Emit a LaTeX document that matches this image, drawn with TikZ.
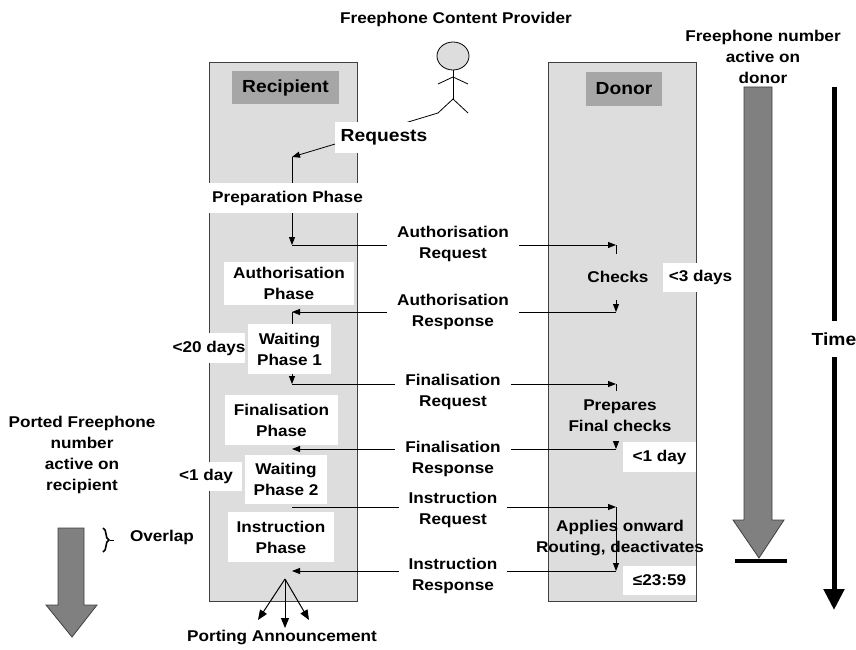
\documentclass[tikz,border=0pt]{standalone}
\usepackage{fontspec}
\setmainfont{Liberation Sans}[FakeStretch=1.1]
\usetikzlibrary{arrows.meta,decorations.pathreplacing}

\definecolor{laneGray}{RGB}{221,221,221}
\definecolor{headGray}{RGB}{166,166,166}
\definecolor{arrowGray}{RGB}{128,128,128}
\definecolor{edgeGray}{RGB}{64,64,64}

\begin{document}
\begin{tikzpicture}[x=1pt, y=-1pt,
  every node/.style = {align=center, inner sep=0pt,
    font=\bfseries\fontsize{15.6}{21}\selectfont},
  msg/.style = {draw=black, line width=0.8pt,
    -{Triangle[width=6pt,length=8pt]}},
  fan/.style = {line width=1pt, -{Triangle[width=8pt,length=10pt]}},
  bigArrow/.style = {draw=edgeGray, fill=arrowGray, line width=0.8pt}]
  \tikzstyle{lane}=[draw=edgeGray, fill=laneGray, line width=0.9pt, anchor=north west]
  \tikzstyle{header}=[fill=headGray, font=\bfseries\fontsize{17.5}{20}\selectfont]
  \tikzstyle{phase}=[fill=white]
  \tikzstyle{msgText}=[fill=white, inner xsep=10pt, inner ysep=1pt]
  \tikzstyle{note}=[fill=white]
  \tikzstyle{shaded}=[fill=laneGray, inner xsep=4pt]

  \useasboundingbox (0,0) rectangle (856,650);

  \node[lane, minimum width=148pt, minimum height=539pt] (recipientLane) at (209,62) {};
  \node[lane, minimum width=148pt, minimum height=539pt] (donorLane) at (548,62) {};
  \node[header, minimum width=107pt, minimum height=33pt] (recipient) at (285.5,87.5) {Recipient};
  \node[header, minimum width=76pt, minimum height=34pt] (donor) at (624,89) {Donor};

  \node (provider) at (456,19) {Freephone Content Provider};
  \draw[fill=laneGray, line width=0.8pt] (453,56) ellipse [x radius=16pt, y radius=14pt];
  \draw[line width=0.8pt] (453,70) -- (453,99) coordinate (hip);
  \draw[line width=0.8pt] (438,84) -- (453,77) -- (468,84);
  \draw[line width=0.8pt] (438,113) coordinate (foot) -- (hip) -- (468,113);

  \coordinate (recTop) at (292,157);
  \coordinate (recA) at (292,245);
  \coordinate (donA) at (616,245);
  \coordinate (donB) at (616,312);
  \coordinate (recB) at (292,312);
  \coordinate (recC) at (292,384);
  \coordinate (donC) at (616,384);
  \coordinate (donD) at (616,449);
  \coordinate (recD) at (292,449);
  \coordinate (recE) at (292,507);
  \coordinate (donE) at (616,507);
  \coordinate (donF) at (616,571);
  \coordinate (recF) at (292,571);
  \coordinate (fanTop) at (285,579);
  \coordinate (fanLeft) at (258,620);
  \coordinate (fanMid) at (285,628);
  \coordinate (fanRight) at (309,620);

  \draw[msg] (foot) -- (recTop);
  \draw[msg] (recTop) -- (recA);
  \draw[msg] (recA) -- (donA);
  \draw[msg] (donA) -- (donB);
  \draw[msg] (donB) -- (recB);
  \draw[msg] (recB) -- (recC);
  \draw[msg] (recC) -- (donC);
  \draw[msg] (donC) -- (donD);
  \draw[msg] (donD) -- (recD);
  \draw[msg] (recE) -- (donE);
  \draw[msg] (donE) -- (donF);
  \draw[msg] (donF) -- (recF);
  \draw[fan] (fanTop) -- (fanLeft);
  \draw[fan] (fanTop) -- (fanMid);
  \draw[fan] (fanTop) -- (fanRight);

  \node[note, minimum width=98pt, minimum height=31pt,
    font=\bfseries\fontsize{17.5}{20}\selectfont] (requests) at (384,137.5) {Requests};
  \node[phase, minimum width=161pt, minimum height=30pt] (preparation) at (287.5,198) {Preparation Phase};
  \node[phase, minimum width=130pt, minimum height=43pt] (authorisation) at (289,283.5) {Authorisation\\Phase};
  \node[phase, minimum width=83pt, minimum height=50pt] (waitingOne) at (289.5,349) {Waiting\\Phase 1};
  \node[phase, minimum width=113pt, minimum height=50pt] (finalisation) at (281.5,420) {Finalisation\\Phase};
  \node[phase, minimum width=82pt, minimum height=49pt] (waitingTwo) at (286,479.5) {Waiting\\Phase 2};
  \node[phase, minimum width=106pt, minimum height=50pt] (instruction) at (281,537) {Instruction\\Phase};

  \node[msgText] (authReq) at (453,244) {Authorisation\\Request};
  \node[msgText] (authResp) at (453,312) {Authorisation\\Response};
  \node[msgText] (finReq) at (453,392) {Finalisation\\Request};
  \node[msgText] (finResp) at (453,459) {Finalisation\\Response};
  \node[msgText] (instReq) at (453,510) {Instruction\\Request};
  \node[msgText] (instResp) at (453,576) {Instruction\\Response};

  \node[shaded, minimum height=46pt] (checks) at (618,277) {Checks};
  \node[shaded, minimum height=50pt] (prepares) at (620,416) {Prepares\\Final checks};
  \node (applies) at (620,537.5) {Applies onward\\Routing, deactivates};

  \node[note, minimum width=75pt, minimum height=29pt] (threeDays) at (700.5,277.5) {<3 days};
  \node[note, minimum width=73pt, minimum height=30pt] (oneDayDonor) at (659.5,457) {<1 day};
  \node[note, minimum width=73pt, minimum height=29pt] (deadline) at (659.5,580.5) {≤23:59};
  \node[note, minimum width=66pt, minimum height=30pt] (twentyDays) at (209,348) {<20 days};
  \node[note, minimum width=72pt, minimum height=29pt] (oneDayRecipient) at (206,476.5) {<1 day};

  \node (announcement) at (282,637) {Porting Announcement};

  \node (ported) at (82,455) {Ported Freephone\\number\\active on\\recipient};
  \draw[bigArrow] (58,528) -- (84,528) -- (84,605) -- (97,605) -- (72,637)
    -- (46,605) -- (58,605) -- cycle;
  \draw[decorate, decoration={brace, amplitude=6pt}, line width=1.6pt] (103,528) -- (103,552);
  \draw[line width=0.6pt] (110,540) -- (114,540);
  \node (overlap) at (162,537) {Overlap};

  \node (donorActive) at (763,56.5) {Freephone number\\active on\\donor};
  \draw[bigArrow] (744,87) -- (772,87) -- (772,520) -- (784,520) -- (759,558)
    -- (733,520) -- (744,520) -- cycle;
  \draw[line width=4pt] (735,561) -- (787,561);

  \coordinate (timeTop) at (834,87);
  \coordinate (timeEnd) at (834,610);
  \draw[line width=5pt, -{Triangle[width=20pt,length=21pt]}] (timeTop) -- (timeEnd);
  \node[note, minimum height=36pt, inner xsep=1pt,
    font=\bfseries\fontsize{17.5}{20}\selectfont] (time) at (834,339) {Time};
\end{tikzpicture}
\end{document}
